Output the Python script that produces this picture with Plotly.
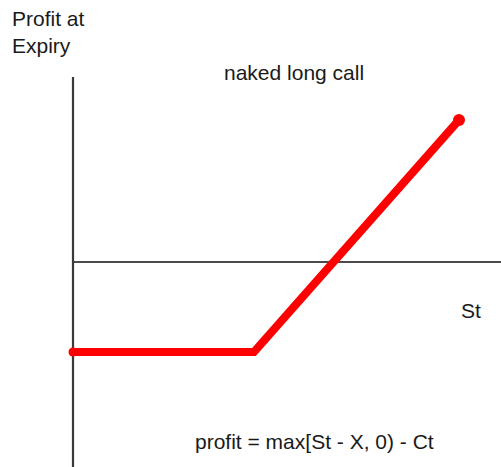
import plotly.graph_objects as go

# Payoff data (chart units, origin at the axes crossing)
st_values = [0, 181, 386]
profit_values = [-90, -90, 142]

title_text = "naked long call"
y_label = "Profit at<br>Expiry"
x_label = "St"
formula_text = "profit = max[St - X, 0) - Ct"

W, H = 501, 467
X0, Y0 = 73, 262  # pixel position of origin
x_range = [-X0, W - X0]
y_range = [-(H - Y0), Y0]

fig = go.Figure()

# axes lines
fig.add_trace(go.Scatter(x=[0, 0], y=[-(H - Y0), 185], mode="lines",
                         line=dict(color="#3a3a3a", width=2.2), hoverinfo="skip"))
fig.add_trace(go.Scatter(x=[1, W - X0], y=[0, 0], mode="lines",
                         line=dict(color="#111111", width=1.5), hoverinfo="skip"))

# payoff line
fig.add_trace(go.Scatter(x=st_values, y=profit_values, mode="lines",
                         line=dict(color="#ff0000", width=8), hoverinfo="skip"))
fig.add_trace(go.Scatter(x=[st_values[0], st_values[-1]],
                         y=[profit_values[0], profit_values[-1]], mode="markers",
                         marker=dict(color="#ff0000", size=[9, 12], opacity=1,
                                     line=dict(width=0)),
                         hoverinfo="skip"))

font = dict(family="Liberation Sans, Arial, sans-serif", size=21, color="#1a1a1a")

def px(xp):
    return xp - X0

def py(yp):
    return Y0 - yp

annotations = [
    dict(x=px(10), y=py(5), text=y_label, xanchor="left", yanchor="top", align="left"),
    dict(x=px(294), y=py(72), text=title_text, xanchor="center", yanchor="middle"),
    dict(x=px(471), y=py(310), text=x_label, xanchor="center", yanchor="middle"),
    dict(x=px(314), y=py(441), text=formula_text, xanchor="center", yanchor="middle"),
]
for a in annotations:
    a.update(xref="x", yref="y", showarrow=False, font=font)

fig.update_layout(
    width=W, height=H,
    margin=dict(l=0, r=0, t=0, b=0),
    paper_bgcolor="white", plot_bgcolor="white",
    showlegend=False,
    hovermode=False,
    xaxis=dict(range=x_range, visible=False, fixedrange=True),
    yaxis=dict(range=y_range, visible=False, fixedrange=True),
    annotations=annotations,
)

fig.write_html(
    "out.html",
    config={"displayModeBar": False, "staticPlot": True},
    post_script="document.body.style.margin='0';document.body.style.overflow='hidden';"
                "document.documentElement.style.overflow='hidden';",
)
